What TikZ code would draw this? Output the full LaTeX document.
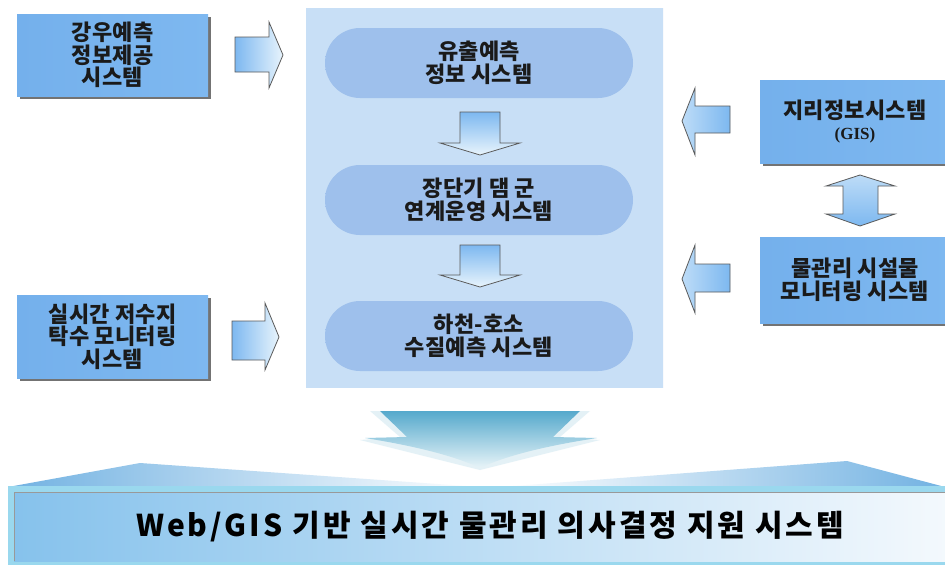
\documentclass[tikz,border=0pt]{standalone}
\usepackage{fontspec}
\newfontfamily\kr{Noto Sans CJK KR}[LetterSpace=1]
\newfontfamily\krtitle{Noto Sans CJK KR}[LetterSpace=10]
\newfontfamily\gisfont{Liberation Serif}
\usetikzlibrary{shadows}
\definecolor{boxA}{HTML}{74B0EC}
\definecolor{boxB}{HTML}{E4F1FD}
\definecolor{boxC}{HTML}{7EB8F0}
\definecolor{panelA}{HTML}{C8DFF6}
\definecolor{panelB}{HTML}{DEECFA}
\definecolor{pillA}{HTML}{9EC0EC}
\definecolor{pillB}{HTML}{D6E6F8}
\definecolor{arrA}{HTML}{7DB8F0}
\definecolor{arrB}{HTML}{E8F4FC}
\definecolor{arrline}{HTML}{5A5A5A}
\definecolor{chevA}{HTML}{55A9CC}
\definecolor{chevB}{HTML}{E8F4F8}
\definecolor{roofA}{HTML}{72B2E2}
\definecolor{barA}{HTML}{86C2EC}
\definecolor{barB}{HTML}{F4F9FD}
\definecolor{barEdge}{HTML}{9AD8EE}
\definecolor{txt}{HTML}{1A1A1A}
\begin{document}
\begin{tikzpicture}[x=1pt,y=-1pt,
  boxtext/.style={font=\kr\bfseries\fontsize{22}{22.5}\selectfont, text=txt, align=center},
  sidebox/.style={boxtext, rectangle, inner sep=0pt, left color=boxA, middle color=boxB, right color=boxC,
     drop shadow={shadow xshift=3pt, shadow yshift=-3pt, fill=black!55, opacity=1}},
  pill/.style={boxtext, rectangle, rounded corners=35pt, minimum width=308pt, minimum height=70pt,
     inner sep=0pt, left color=pillA, middle color=pillB, right color=pillA},
  rarrow/.style={draw=arrline, line width=0.8pt, line join=miter, left color=arrA, right color=arrB},
  larrow/.style={draw=arrline, line width=0.8pt, line join=miter, left color=arrB!60!arrA, right color=arrA},
  darrow/.style={draw=arrline, line width=0.8pt, line join=miter, top color=arrA, bottom color=arrB},
  varrow/.style={draw=arrline, line width=0.8pt, line join=miter, top color=arrB!60!arrA, bottom color=arrA},
]
\useasboundingbox (0,0) rectangle (945,565);
\clip (0,0) rectangle (945,565);
\fill[white] (0,0) rectangle (945,565);

% central panel
\node[rectangle, minimum width=357pt, minimum height=379pt, inner sep=0pt,
      left color=panelA, middle color=panelB, right color=panelA] (panel) at (484.5,197.5) {};

% pills
\node[pill] (p1) at (479,63) {유출예측\\정보 시스템};
\node[pill] (p2) at (479,200) {장단기 댐 군\\연계운영 시스템};
\node[pill] (p3) at (479,336) {하천-호소\\수질예측 시스템};

% down arrows inside panel
\path[darrow] (460,112) -- (500,112) -- (500,143) -- (520,143) -- (480,155) -- (440,143) -- (460,143) -- cycle;
\path[darrow] (460,245) -- (500,245) -- (500,275) -- (520,275) -- (480,287) -- (440,275) -- (460,275) -- cycle;

% left boxes
\node[sidebox, minimum width=191pt, minimum height=82pt] (l1) at (112.5,55) {강우예측\\정보제공\\시스템};
\node[sidebox, minimum width=191pt, minimum height=83pt] (l2) at (112.5,336.5) {실시간 저수지\\탁수 모니터링\\시스템};

% right boxes
\node[sidebox, minimum width=190pt, minimum height=83pt] (r1) at (855,121.5)
   {지리정보시스템\\[-2pt]{\gisfont\bfseries\fontsize{17}{18}\selectfont (GIS)}};
\node[sidebox, minimum width=190pt, minimum height=86pt] (r2) at (855,280) {물관리 시설물\\모니터링 시스템};

% right-pointing arrows
\path[rarrow] (235,37) -- (269,37) -- (269,22) -- (283,55) -- (269,88) -- (269,72) -- (235,72) -- cycle;
\path[rarrow] (232,321) -- (265,321) -- (265,303) -- (279,337) -- (265,370) -- (265,360) -- (232,360) -- cycle;

% left-pointing arrows
\path[larrow] (730,106) -- (695,106) -- (695,88) -- (682,121) -- (695,155) -- (695,133) -- (730,133) -- cycle;
\path[larrow] (730,264) -- (695,264) -- (695,245) -- (682,279) -- (695,313) -- (695,292) -- (730,292) -- cycle;

% double arrow
\path[varrow] (860,175) -- (895,186) -- (878,186) -- (878,214) -- (895,214) -- (860,226) -- (826,214)
   -- (843,214) -- (843,186) -- (826,186) -- cycle;

% big chevron
\fill[chevB!80!chevA, opacity=0.5] (370,411) -- (590,411) -- (560,437) -- (600,440) -- (480,470) -- (360,440) -- (400,437) -- cycle;
\path[top color=chevA, bottom color=chevB] (380,411) -- (580,411) -- (553,437) -- (597,438)
   .. controls (545,446) and (505,456) .. (480,468)
   .. controls (455,456) and (415,446) .. (365,438) -- (407,437) -- cycle;

% roofs
\path[left color=roofA, right color=white] (8,487) -- (140,463) -- (480,487) -- cycle;
\path[left color=white, right color=roofA] (500,487) -- (847,461) -- (945,487) -- cycle;

% bottom bar
\fill[barEdge] (8,486) rectangle (950,565);
\node[rectangle, minimum width=936pt, minimum height=69pt, inner sep=0pt, anchor=north west,
      left color=barA, right color=barB] (bar) at (14,492) {};
\draw[black!40, line width=1pt] (bar.south west) -- (bar.north west) -- (bar.north east);
\node[font=\krtitle\bfseries\fontsize{30}{32}\selectfont, text=black] (title) at (490,527)
   {Web/GIS 기반 실시간 물관리 의사결정 지원 시스템};
\end{tikzpicture}
\end{document}
